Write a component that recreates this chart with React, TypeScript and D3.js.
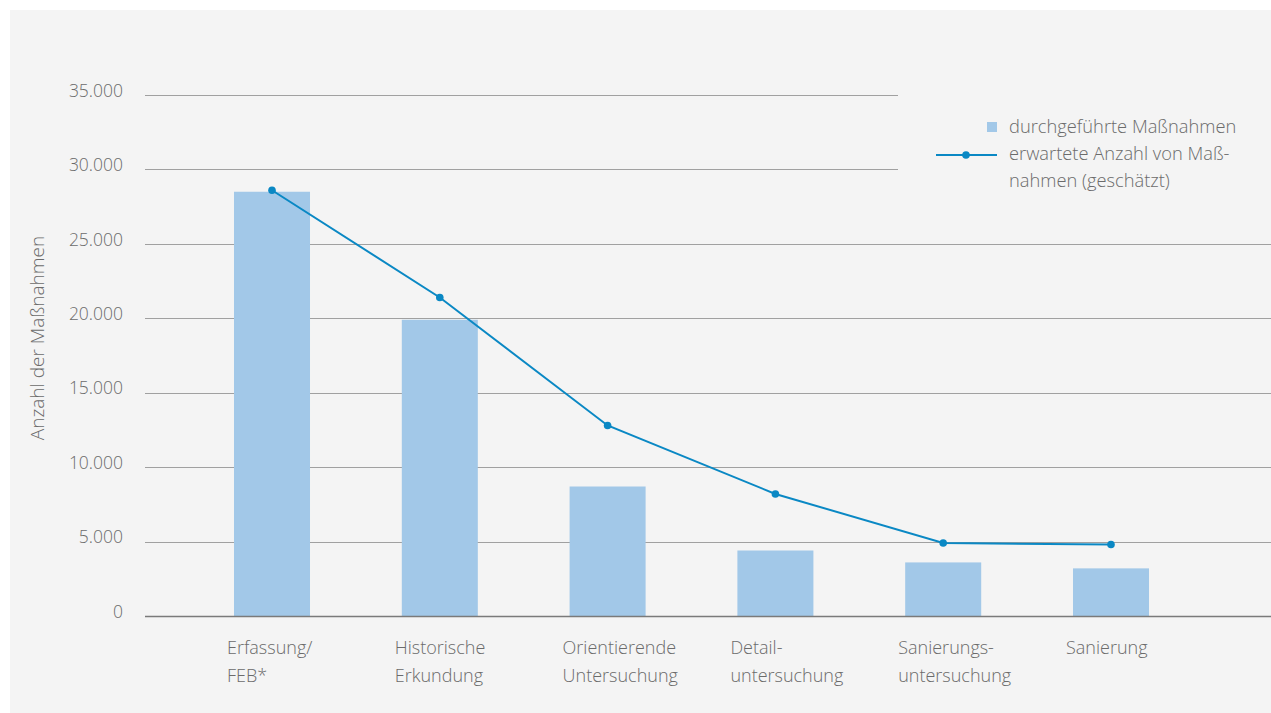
import React from "react";
import * as d3 from "d3";

const categories: string[][] = [
  ["Erfassung/", "FEB*"],
  ["Historische", "Erkundung"],
  ["Orientierende", "Untersuchung"],
  ["Detail-", "untersuchung"],
  ["Sanierungs-", "untersuchung"],
  ["Sanierung"],
];
const performed: number[] = [28500, 19900, 8700, 4400, 3600, 3200];
const expected: number[] = [28600, 21400, 12800, 8200, 4900, 4800];
const yTicks: number[] = [0, 5000, 10000, 15000, 20000, 25000, 30000, 35000];
const legendLabels: string[][] = [
  ["durchgeführte Maßnahmen"],
  ["erwartete Anzahl von Maß-", "nahmen (geschätzt)"],
];
const yTitle = "Anzahl der Maßnahmen";

const W = 1271;
const H = 713;
const FONT = "'Open Sans', sans-serif";
const TEXT = "#6b6b6b";
const BAR = "#a2c8e8";
const LINE = "#0a88c4";

export default function App() {
  const x = d3
    .scaleBand<number>()
    .domain(categories.map((_, i) => i))
    .range([188.1, 1194.9])
    .paddingInner(0.547)
    .paddingOuter(0.2735);
  const y = d3.scaleLinear().domain([0, 35000]).range([616, 95]);
  const fmt = d3.formatLocale({ decimal: ",", thousands: ".", grouping: [3], currency: ["", "€"] }).format(",");
  const cx = (i: number) => (x(i) as number) + x.bandwidth() / 2;
  const line = d3
    .line<number>()
    .x((_, i) => cx(i))
    .y((d) => y(d));

  return (
    <svg
      width={W}
      height={H}
      style={{ position: "absolute", left: 0, top: 0, fontFamily: FONT }}
    >
      <rect x={10} y={10} width={W - 10} height={H - 10} fill="#f4f4f4" />
      {yTicks.map((t) => (
        <g key={t}>
          {t > 0 && (
            <line
              x1={145}
              x2={t >= 30000 ? 898 : W}
              y1={Math.round(y(t)) + 0.5}
              y2={Math.round(y(t)) + 0.5}
              stroke="#a0a0a0"
              strokeWidth={1.2}
            />
          )}
          <text
            x={123}
            y={y(t)}
            dy="0.1em"
            textAnchor="end"
            fontSize={17.5}
            fontWeight={300}
            fill={TEXT}
          >
            {fmt(t)}
          </text>
        </g>
      ))}
      <text
        transform={`translate(44,${338}) rotate(-90)`}
        textAnchor="middle"
        fontSize={19}
        fontWeight={300}
        fill={TEXT}
      >
        {yTitle}
      </text>
      {performed.map((v, i) => (
        <rect
          key={i}
          x={x(i)}
          y={y(v)}
          width={x.bandwidth()}
          height={y(0) - y(v)}
          fill={BAR}
        />
      ))}
      <line x1={145} x2={W} y1={616.5} y2={616.5} stroke="#7a7a7a" strokeWidth={1.3} />
      <path d={line(expected) || ""} fill="none" stroke={LINE} strokeWidth={2} />
      {expected.map((v, i) => (
        <circle key={i} cx={cx(i)} cy={y(v)} r={3.8} fill={LINE} />
      ))}
      {categories.map((lines, i) => (
        <text
          key={i}
          x={(x(i) as number) - 7}
          y={654}
          fontSize={18}
          fontWeight={300}
          fill={TEXT}
        >
          {lines.map((l, j) => (
            <tspan key={j} x={(x(i) as number) - 7} dy={j === 0 ? 0 : 28}>
              {l}
            </tspan>
          ))}
        </text>
      ))}
      <g>
        <rect x={987} y={122} width={10} height={10} fill={BAR} />
        <text x={1009} y={133} fontSize={18.3} fontWeight={300} fill={TEXT}>
          {legendLabels[0][0]}
        </text>
        <line x1={936} x2={997} y1={155} y2={155} stroke={LINE} strokeWidth={2} />
        <circle cx={966} cy={155} r={3.8} fill={LINE} />
        <text x={1009} y={160} fontSize={18.3} fontWeight={300} fill={TEXT}>
          {legendLabels[1].map((l, j) => (
            <tspan key={j} x={1009} dy={j === 0 ? 0 : 27}>
              {l}
            </tspan>
          ))}
        </text>
      </g>
    </svg>
  );
}
